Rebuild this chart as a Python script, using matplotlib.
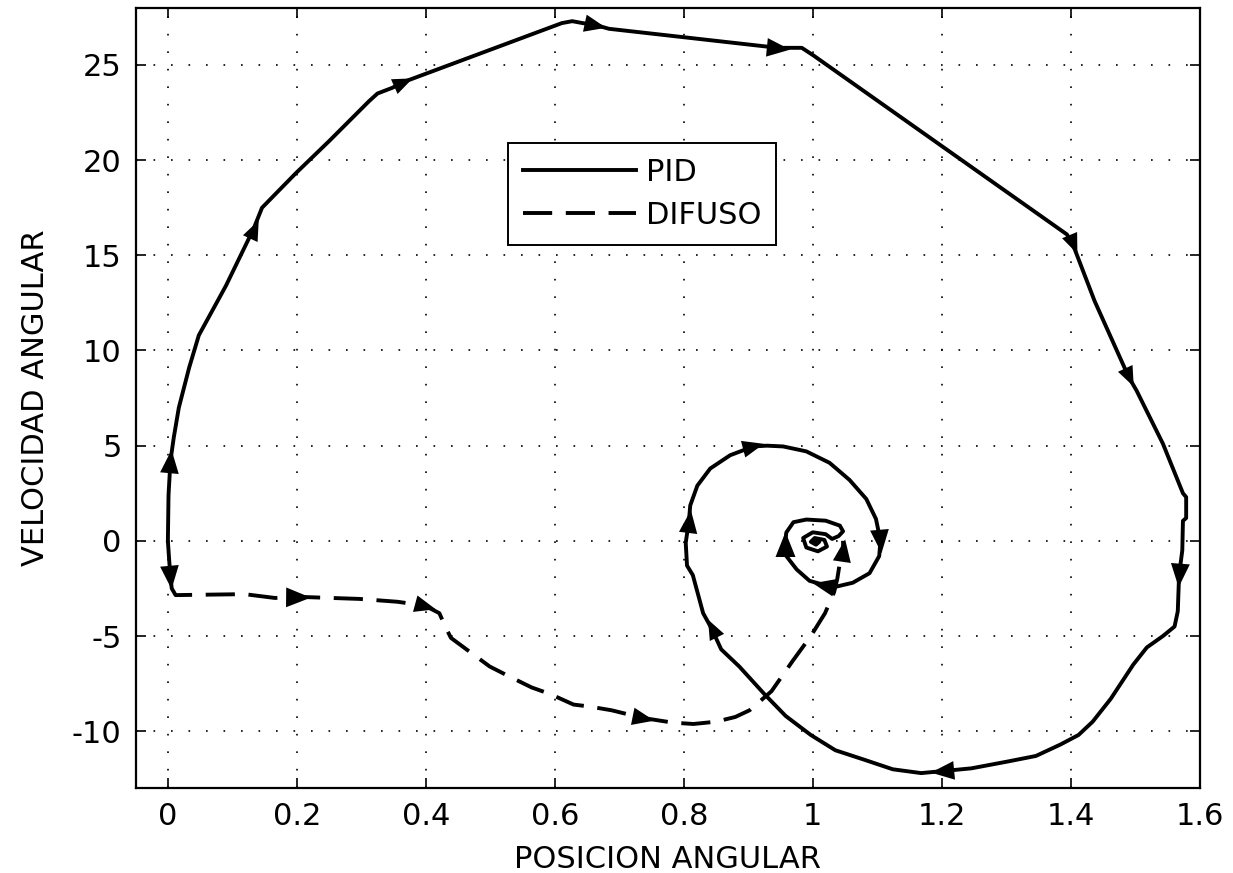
import numpy as np
import matplotlib
matplotlib.use("Agg")
import matplotlib.pyplot as plt
from matplotlib.path import Path

plt.rcParams['font.family'] = ['DejaVu Sans']
plt.rcParams['axes.unicode_minus'] = False

# Phase-plane trajectories: angular position vs angular velocity
pid_pos = [0.0, 0.001, 0.004, 0.009, 0.017, 0.033, 0.048, 0.09,
           0.133, 0.146, 0.198, 0.25, 0.312, 0.325, 0.348, 0.365, 0.381, 0.611,
           0.627, 0.643, 0.663, 0.684, 0.946, 0.983, 1.001, 1.394, 1.403, 1.437,
           1.49, 1.502, 1.543, 1.574, 1.579, 1.579, 1.574, 1.573, 1.568, 1.566,
           1.561, 1.543, 1.518, 1.497, 1.462, 1.434, 1.412, 1.384, 1.346, 1.301,
           1.246, 1.20, 1.168, 1.124, 1.08, 1.035, 0.997, 0.958, 0.925, 0.886,
           0.858, 0.843, 0.83, 0.814, 0.805, 0.803, 0.808, 0.81, 0.821, 0.841,
           0.872, 0.908, 0.929, 0.954, 0.99, 1.026, 1.057, 1.083, 1.098, 1.105,
           1.103, 1.088, 1.062, 1.037, 1.016, 0.995, 0.975, 0.959, 0.957, 0.959,
           0.97, 0.99, 1.02, 1.042, 1.047, 1.04, 1.03, 1.02, 1.0, 0.985,
           0.99, 1.008, 1.022, 1.018, 1.003, 0.997, 1.005, 1.01, 1.005]
pid_vel = [0.0, 2.4, 4.2, 5.4, 7.0, 9.1, 10.8, 13.4,
           16.4, 17.5, 19.3, 21.0, 23.1, 23.5, 23.8, 24.1, 24.3, 27.2,
           27.3, 27.2, 27.1, 26.9, 25.9, 25.9, 25.5, 16.1, 15.6, 12.6,
           8.6, 7.9, 5.1, 2.5, 2.3, 1.2, 1.05, -0.5, -1.8, -3.7,
           -4.5, -5.0, -5.6, -6.5, -8.3, -9.5, -10.2, -10.7, -11.3, -11.6,
           -11.95, -12.1, -12.2, -12.0, -11.5, -11.0, -10.2, -9.2, -8.05, -6.6,
           -5.7, -4.6, -3.8, -1.8, -1.3, -0.1, 1.06, 1.86, 2.9, 3.8,
           4.5, 4.96, 5.0, 4.96, 4.7, 4.1, 3.2, 2.2, 1.15, 0.0,
           -0.8, -1.7, -2.2, -2.4, -2.3, -2.1, -1.5, -0.8, -0.15, 0.44,
           0.98, 1.12, 1.06, 0.8, 0.5, 0.25, 0.1, 0.35, 0.45, 0.15,
           -0.35, -0.55, -0.3, 0.05, 0.15, -0.05, -0.2, -0.05, 0.0]

fuzzy_pos = [0.0, 0.002, 0.004, 0.006, 0.012, 0.119, 0.166, 0.202, 0.297, 0.356,
             0.398, 0.421, 0.43, 0.439, 0.463, 0.499, 0.528, 0.564, 0.593, 0.629,
             0.653, 0.688, 0.736, 0.783, 0.815, 0.85, 0.88, 0.902, 0.936, 0.969,
             0.997, 1.019, 1.033, 1.038, 1.042, 1.047, 1.047]
fuzzy_vel = [0.0, -1.0, -1.9, -2.5, -2.85, -2.8, -3.0, -2.94, -3.05, -3.2,
             -3.4, -3.8, -4.5, -5.1, -5.7, -6.6, -7.1, -7.7, -8.05, -8.6,
             -8.7, -8.9, -9.3, -9.55, -9.62, -9.5, -9.25, -8.9, -7.9, -6.3,
             -5.0, -3.8, -2.7, -2.0, -1.15, -0.5, 0.0]

# Direction arrows placed along each trajectory
pid_arrow_pos = [0.004, 0.133, 0.365, 0.663, 0.946, 1.403, 1.49, 1.568, 1.20,
                 0.843, 0.808, 0.908, 1.105, 1.016, 0.957]
pid_arrow_vel = [4.2, 16.4, 24.1, 27.1, 25.9, 15.6, 8.6, -1.8, -12.1,
                 -4.6, 1.06, 4.96, 0.0, -2.3, -0.15]
fuzzy_arrow_pos = [0.004, 0.202, 0.398, 0.736, 1.047]
fuzzy_arrow_vel = [-1.9, -2.94, -3.4, -9.3, -0.5]

x_ticks = [0, 0.2, 0.4, 0.6, 0.8, 1.0, 1.2, 1.4, 1.6]
x_tick_labels = ['0', '0.2', '0.4', '0.6', '0.8', '1', '1.2', '1.4', '1.6']
y_ticks = [-10, -5, 0, 5, 10, 15, 20, 25]

fig = plt.figure(figsize=(12.33, 8.73), dpi=100)
ax = fig.add_axes([0.110, 0.097, 0.863, 0.894])
ax.set_xlim(-0.05, 1.6)
ax.set_ylim(-13, 28)

lw = 2.8
ax.plot(pid_pos, pid_vel, color='black', lw=lw, label='PID',
        solid_joinstyle='round')
ax.plot(fuzzy_pos, fuzzy_vel, color='black', lw=lw, linestyle=(0, (7.5, 3.5)),
        label='DIFUSO')


def arrow_heads(px, py, ax_pts, ay_pts):
    pts = ax.transData.transform(np.column_stack([px, py]))
    for xa, ya in zip(ax_pts, ay_pts):
        p = ax.transData.transform((xa, ya))
        i = int(np.argmin(np.hypot(pts[:, 0] - p[0], pts[:, 1] - p[1])))
        a = pts[max(i - 1, 0)]
        b = pts[min(i + 1, len(pts) - 1)]
        d = b - a
        ang = np.arctan2(d[1], d[0])
        c, s = np.cos(ang), np.sin(ang)
        base = np.array([[1.0, 0.0], [-1.0, 0.8], [-1.0, -0.8], [1.0, 0.0]])
        rot = base @ np.array([[c, s], [-s, c]])
        marker = Path(rot, [Path.MOVETO, Path.LINETO, Path.LINETO, Path.CLOSEPOLY])
        ax.plot([xa], [ya], marker=marker, markersize=18, color='black',
                markeredgewidth=0, linestyle='none')


arrow_heads(pid_pos, pid_vel, pid_arrow_pos, pid_arrow_vel)
arrow_heads(fuzzy_pos, fuzzy_vel, fuzzy_arrow_pos, fuzzy_arrow_vel)

ax.set_xticks(x_ticks)
ax.set_xticklabels(x_tick_labels)
ax.set_yticks(y_ticks)
ax.grid(True, color='black', linestyle=(0, (1, 9.5)), linewidth=1.2)
ax.tick_params(direction='in', length=7, width=1.2, top=True, right=True,
               labelsize=22, pad=10)
for sp in ax.spines.values():
    sp.set_linewidth(1.6)

ax.set_xlabel('POSICION ANGULAR', fontsize=22, labelpad=10)
ax.set_ylabel('VELOCIDAD ANGULAR', fontsize=22, labelpad=16)

leg = ax.legend(loc='upper left', bbox_to_anchor=(0.35, 0.827), borderaxespad=0,
                fontsize=22, handlelength=3.7, handletextpad=0.3,
                labelspacing=0.45, fancybox=False, framealpha=1,
                edgecolor='black', borderpad=0.5)
leg.get_frame().set_linewidth(1.4)

fig.savefig('out.png', dpi=100)
